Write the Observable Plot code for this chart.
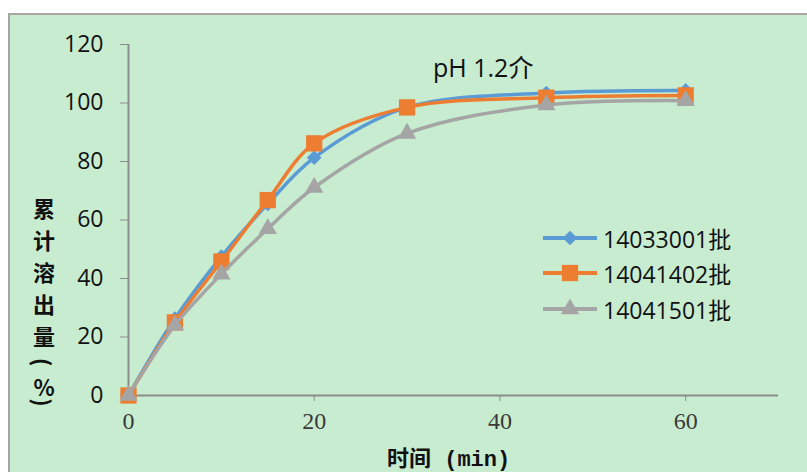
<!DOCTYPE html>
<html>
<head>
<meta charset="utf-8">
<script src="https://cdn.jsdelivr.net/npm/d3@7"></script>
<script src="https://cdn.jsdelivr.net/npm/@observablehq/plot@0.6"></script>
<style>
  html, body { margin: 0; padding: 0; background: #ffffff; }
  #wrap { position: relative; width: 807px; height: 472px; overflow: hidden; }
  #bg { position: absolute; left: 8px; top: 13px; width: 820px; height: 480px;
        background: #c8ecd0; border-top: 2px solid #a6a6a6; border-left: 2px solid #a6a6a6; box-sizing: border-box; }
  #chart { position: absolute; left: 0; top: 0; }
  #chart svg { background: transparent !important; }
  g[aria-label="y-axis tick label"] text { font-family: "Open Sans", sans-serif; font-size: 23px; fill: #111; }
  g[aria-label="x-axis tick label"] text { font-family: "Liberation Serif", serif; font-size: 24px; fill: #3a3a3a; }
  .title { position: absolute; left: 433px; top: 48px; font-family: "Open Sans", "Noto Sans CJK SC", sans-serif; font-size: 25px; color: #111; white-space: nowrap; }
  .ylab { position: absolute; left: 33px; top: 198px; writing-mode: vertical-rl; font-family: "Noto Sans CJK SC", sans-serif; font-weight: 700; font-size: 22px; letter-spacing: 10px; color: #111; line-height: 1; }
  .ylab .up { text-orientation: upright; letter-spacing: 0; }
  .xlab { position: absolute; left: 387px; top: 440px; font-family: "Noto Sans CJK SC", sans-serif; font-weight: 700; font-size: 22px; color: #111; white-space: pre; }
  .xlab .m { font-family: "Liberation Mono", monospace; font-weight: 700; }
  .legend { position: absolute; left: 543px; top: 220px; font-family: "Open Sans", "Noto Sans CJK SC", sans-serif; font-size: 23px; color: #111; }
  .legend .row { display: flex; align-items: center; height: 35.5px; white-space: nowrap; }
  .legend svg { margin-right: 6px; }
</style>
</head>
<body>
<div id="wrap">
  <div id="bg"></div>
  <div id="chart"></div>
</div>
<script>
const times = [0, 5, 10, 15, 20, 30, 45, 60];
const seriesNames = ["14033001批", "14041402批", "14041501批"];
const batchA = [0, 26.3, 47.5, 65.5, 81.3, 98.5, 103.4, 104.3];
const batchB = [0, 25, 45.8, 66.8, 86.2, 98.5, 101.8, 102.6];
const batchC = [0, 24, 41.5, 57, 71.1, 89.6, 99.3, 100.8];
const colors = ["#5b9bd5", "#ed7d31", "#a5a5a5"];
const symbols = ["diamond2", "square", "triangle"];
const radii = [6.6, 9.2, 6.8];
const xTicks = [0, 20, 40, 60];
const yTicks = [0, 20, 40, 60, 80, 100, 120];
const titleText = "pH 1.2介";
const yLabelMain = "累计溶出量";
const yLabelUnit = ["(", "%", ")"];
const xLabelCn = "时间";
const xLabelUnit = " (min)";

const allValues = [batchA, batchB, batchC];
const data = [];
allValues.forEach((vals, s) => {
  vals.forEach((v, i) => data.push({series: seriesNames[s], s, t: times[i], v}));
});

const marks = [
  Plot.ruleY([0], {stroke: "#8c8c8c", strokeWidth: 2}),
  Plot.ruleX([0], {stroke: "#8c8c8c", strokeWidth: 2}),
  Plot.axisY({ticks: yTicks, tickSize: 8, tickPadding: 17, stroke: "#8c8c8c", label: null, tickFormat: d => String(d)}),
  Plot.axisX({ticks: xTicks, tickSize: 6, tickPadding: 10, stroke: "#8c8c8c", label: null, tickFormat: d => String(d)})
];
seriesNames.forEach((name, s) => {
  const d = data.filter(r => r.s === s);
  marks.push(Plot.line(d, {x: "t", y: "v", stroke: colors[s], strokeWidth: 3.5, curve: "catmull-rom"}));
  marks.push(Plot.dot(d, {x: "t", y: "v", fill: colors[s], stroke: "none", symbol: () => symbols[s], r: radii[s]}));
});

const chart = Plot.plot({
  width: 807,
  height: 472,
  marginLeft: 128,
  marginRight: 29,
  marginTop: 44,
  marginBottom: 77,
  style: {background: "transparent", overflow: "visible"},
  x: {domain: [0, 70]},
  y: {domain: [0, 120]},
  marks
});
document.getElementById("chart").appendChild(chart);

const wrap = document.getElementById("wrap");
const title = document.createElement("div");
title.className = "title";
title.textContent = titleText;
wrap.appendChild(title);

const yl = document.createElement("div");
yl.className = "ylab";
yl.innerHTML = yLabelMain + yLabelUnit[0] + '<span class="up">' + yLabelUnit[1] + '</span>' + yLabelUnit[2];
wrap.appendChild(yl);

const xl = document.createElement("div");
xl.className = "xlab";
xl.innerHTML = xLabelCn + '<span class="m">' + xLabelUnit + '</span>';
wrap.appendChild(xl);

const legend = document.createElement("div");
legend.className = "legend";
seriesNames.forEach((name, s) => {
  const row = document.createElement("div");
  row.className = "row";
  const sym = d3.symbol().type({diamond2: d3.symbolDiamond2, square: d3.symbolSquare, triangle: d3.symbolTriangle}[symbols[s]]).size(Math.PI * radii[s] * radii[s]);
  row.innerHTML = `<svg width="54" height="24" viewBox="0 0 54 24"><line x1="0" x2="54" y1="12" y2="12" stroke="${colors[s]}" stroke-width="4" stroke-linecap="round"/><path d="${sym()}" transform="translate(27,12)" fill="${colors[s]}"/></svg><span>${name}</span>`;
  legend.appendChild(row);
});
wrap.appendChild(legend);
</script>
</body>
</html>
